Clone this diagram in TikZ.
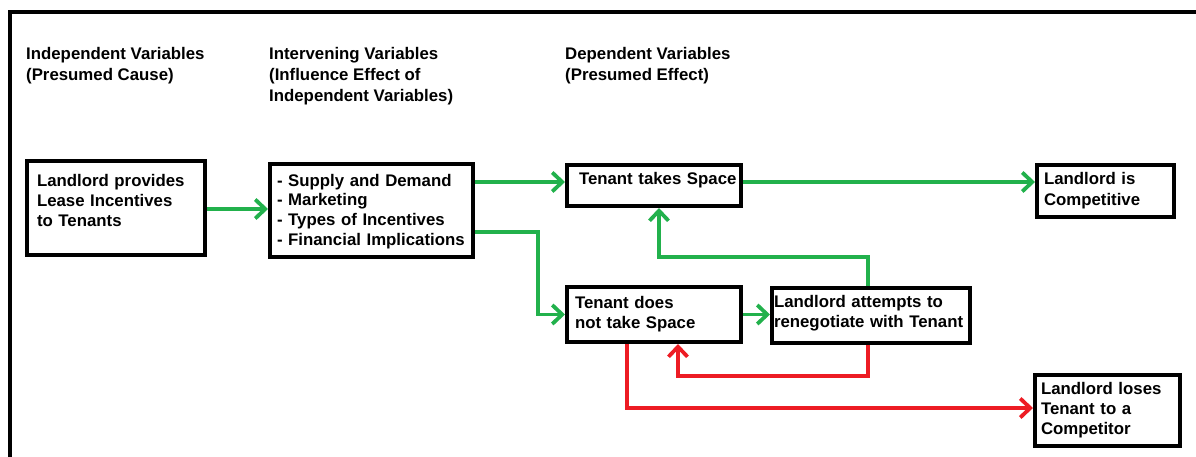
\documentclass[tikz,border=0pt]{standalone}
\usepackage{fontspec}
\setmainfont{Liberation Sans}
\usetikzlibrary{arrows.meta}
\definecolor{pgreen}{HTML}{22B14C}
\definecolor{pred}{HTML}{ED1C24}
\newcommand{\boxtxt}[2]{\raisebox{#1}[\height][\depth]{\begin{tabular}{@{}l@{}}#2\end{tabular}}}
\newcommand{\headtxt}[1]{\begin{tabular}[t]{@{}l@{}}#1\end{tabular}}
\begin{document}
\begin{tikzpicture}[x=1pt,y=-1pt,
  every node/.style={font=\fontsize{16.8}{20}\selectfont\bfseries},
  box/.style={draw=black, line width=4pt, align=left, inner ysep=0pt},
  head/.style={inner sep=0pt, anchor=base west, font=\fontsize{16.8}{21}\selectfont\bfseries},
  conn/.style={line width=3.8pt, -{Straight Barb[length=10pt,width=19pt]}},
  g/.style={conn, draw=pgreen, color=pgreen},
  r/.style={conn, draw=pred, color=pred},
]
\useasboundingbox (0,0) rectangle (1196,457);
\clip (0,0) rectangle (1196,457);

% frame
\draw[line width=4pt] (1210,12) -- (9.5,12) -- (9.5,470);

% headers
\node[head] (h1) at (26,60) {\headtxt{Independent Variables\\(Presumed Cause)}};
\node[head] (h2) at (269,60) {\headtxt{Intervening Variables\\(Influence Effect of\\Independent Variables)}};
\node[head] (h3) at (565,60) {\headtxt{Dependent Variables\\(Presumed Effect)}};

% boxes
\node[box, minimum height=94, inner xsep=10, text width=158] (A) at (116,208)
  {\boxtxt{5pt}{Landlord provides\\Lease Incentives\\to Tenants}};
\node[box, minimum height=93, inner xsep=7, text width=189] (B) at (371.5,210.5)
  {\boxtxt{-1.5pt}{- Supply and Demand\\- Marketing\\- Types of Incentives\\- Financial Implications}};
\node[box, minimum height=41, inner xsep=12, text width=150] (C) at (654,185.5)
  {\boxtxt{4.5pt}{Tenant takes Space}};
\node[box, minimum height=55, inner xsep=8, text width=158] (D) at (654,314.5)
  {\boxtxt{0pt}{Tenant does\\not take Space}};
\node[box, minimum height=55, inner xsep=2, text width=194] (E) at (871,315.5)
  {\boxtxt{2pt}{Landlord attempts to\\renegotiate with Tenant}};
\node[box, minimum height=52, inner xsep=7, text width=123] (F) at (1105.5,191)
  {\boxtxt{0pt}{Landlord is\\Competitive}};
\node[box, minimum height=71, inner xsep=6, text width=133] (G) at (1107.5,410.5)
  {\boxtxt{0pt}{Landlord loses\\Tenant to a\\Competitor}};

% helper coordinates
\coordinate (yAB) at (0,209);
\coordinate (yBC) at (0,182);
\coordinate (yBD) at (0,232);
\coordinate (xBD) at (538,0);
\coordinate (xE) at (868,0);
\coordinate (xC) at (659,0);
\coordinate (yEC) at (0,257);
\coordinate (yED) at (0,376);
\coordinate (xDE) at (678,0);
\coordinate (xDG) at (627,0);
\coordinate (yDG) at (0,408);

% connectors
\draw[g] (A.east |- yAB) -- (B.west |- yAB);
\draw[g] (B.east |- yBC) -- (C.west |- yBC);
\draw[g] (C.east |- yBC) -- (F.west |- yBC);
\draw[g] (B.east |- yBD) -| (xBD |- D.west) -- (D.west);
\draw[g] (D.east) -- (D.east -| E.west);
\draw[g] (xE |- E.north) -- (xE |- yEC) -- (xC |- yEC) -- (xC |- C.south);
\draw[r] (xE |- E.south) -- (xE |- yED) -- (xDE |- yED) -- (xDE |- D.south);
\draw[r] (xDG |- D.south) -- (xDG |- yDG) -- (G.west |- yDG);
\end{tikzpicture}
\end{document}
